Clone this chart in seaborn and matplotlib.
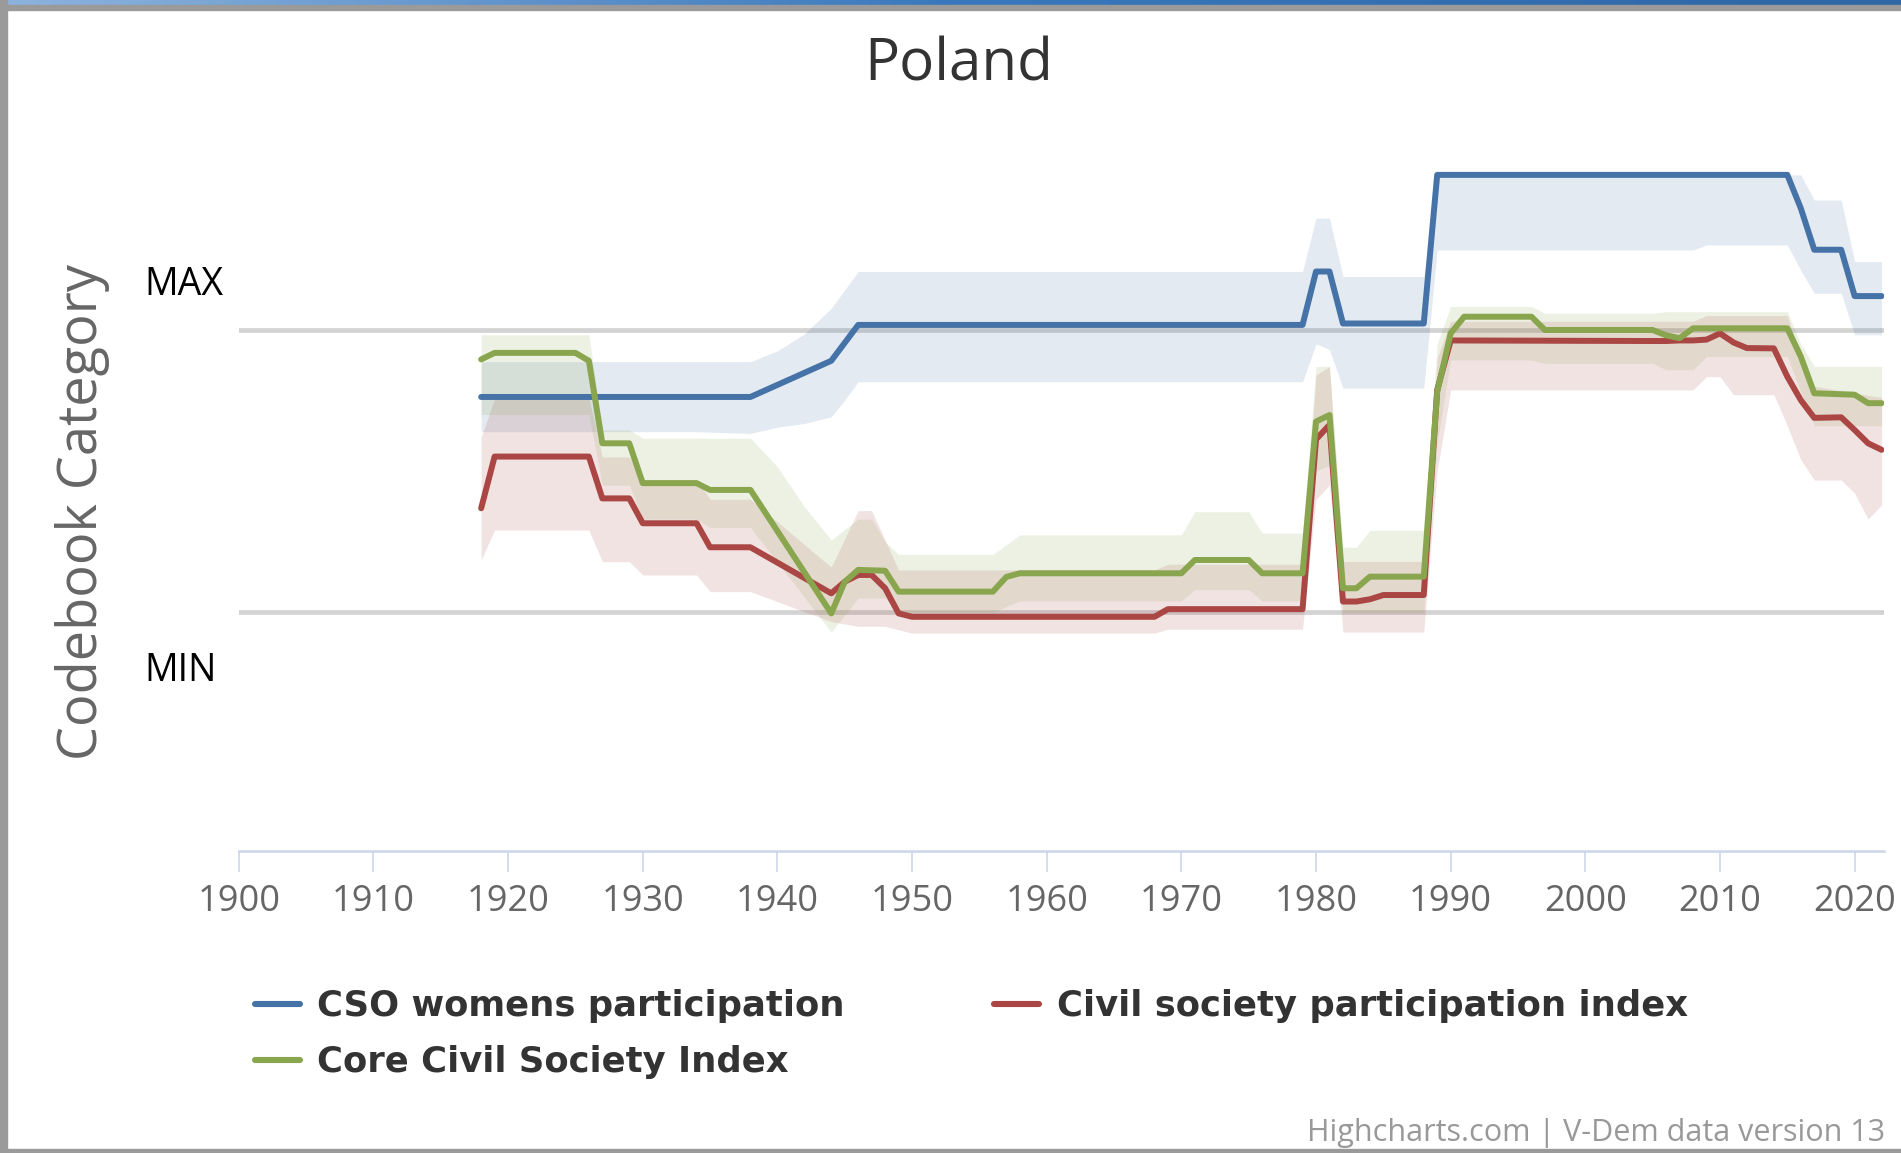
import numpy as np
import matplotlib
matplotlib.use("Agg")
import matplotlib.pyplot as plt
from matplotlib.lines import Line2D
from matplotlib.patches import Rectangle
import seaborn as sns

# ---- data (vertices, MIN = 0, MAX = 1) ----
cso_years = [1918, 1938, 1944, 1946, 1979, 1980, 1981, 1982, 1988, 1989, 2015, 2016, 2017, 2019, 2020, 2022]
cso_vals = [0.762, 0.762, 0.890, 1.017, 1.017, 1.206, 1.206, 1.022, 1.022, 1.548, 1.548, 1.430, 1.283, 1.283, 1.119, 1.119]
cso_hi_years = [1918, 1938, 1940, 1942, 1944, 1946, 1979, 1980, 1981, 1982, 1988, 1989, 2016, 2017, 2019, 2020, 2022]
cso_hi_vals = [0.887, 0.887, 0.925, 0.985, 1.076, 1.206, 1.206, 1.395, 1.395, 1.188, 1.188, 1.548, 1.548, 1.459, 1.459, 1.241, 1.241]
cso_lo_years = [1918, 1934, 1938, 1940, 1942, 1944, 1945, 1946, 1979, 1980, 1981, 1982, 1988, 1989, 2008, 2009, 2015, 2016, 2017, 2019, 2020, 2022]
cso_lo_vals = [0.639, 0.639, 0.633, 0.655, 0.668, 0.692, 0.751, 0.816, 0.816, 0.950, 0.930, 0.793, 0.793, 1.282, 1.282, 1.300, 1.300, 1.210, 1.129, 1.129, 0.982, 0.982]

csp_years = [1918, 1919, 1926, 1927, 1929, 1930, 1934, 1935, 1938, 1944, 1945, 1946, 1947, 1948, 1949, 1950, 1968, 1969, 1979,
             1980, 1981, 1982, 1983, 1984, 1985, 1988, 1989, 1990, 2005, 2006, 2007, 2008, 2009, 2010, 2011, 2012, 2014,
             2015, 2016, 2017, 2019, 2020, 2021, 2022]
csp_vals = [0.368, 0.551, 0.551, 0.403, 0.403, 0.315, 0.315, 0.230, 0.230, 0.067, 0.108, 0.132, 0.132, 0.085, -0.004, -0.016,
            -0.016, 0.011, 0.011, 0.612, 0.663, 0.038, 0.038, 0.046, 0.061, 0.061, 0.787, 0.962, 0.960, 0.960, 0.962, 0.962,
            0.965, 0.987, 0.955, 0.935, 0.934, 0.834, 0.751, 0.688, 0.690, 0.645, 0.598, 0.575]
csp_hi_years = [1918, 1919, 1926, 1927, 1929, 1930, 1934, 1935, 1938, 1944, 1946, 1947, 1949, 1968, 1969, 1979, 1980, 1981,
                1982, 1988, 1989, 1990, 2008, 2009, 2015, 2016, 2017, 2022]
csp_hi_vals = [0.62, 0.757, 0.757, 0.55, 0.55, 0.47, 0.47, 0.40, 0.40, 0.16, 0.36, 0.36, 0.15, 0.15, 0.17, 0.17, 0.84, 0.87,
               0.18, 0.18, 0.90, 1.03, 1.03, 1.05, 1.05, 0.90, 0.80, 0.76]
csp_lo_years = [1918, 1919, 1926, 1927, 1929, 1930, 1934, 1935, 1938, 1944, 1946, 1948, 1950, 1968, 1969, 1979, 1980, 1981,
                1982, 1988, 1989, 1990, 2008, 2009, 2010, 2011, 2014, 2015, 2016, 2017, 2019, 2020, 2021, 2022]
csp_lo_vals = [0.185, 0.291, 0.291, 0.179, 0.179, 0.132, 0.132, 0.073, 0.073, -0.033, -0.05, -0.05, -0.074, -0.074, -0.06,
               -0.06, 0.40, 0.45, -0.07, -0.07, 0.50, 0.787, 0.787, 0.834, 0.834, 0.77, 0.77, 0.66, 0.54, 0.468, 0.468,
               0.421, 0.33, 0.38]

core_years = [1918, 1919, 1925, 1926, 1927, 1929, 1930, 1934, 1935, 1938, 1944, 1945, 1946, 1948, 1949, 1956, 1957, 1958,
              1970, 1971, 1975, 1976, 1979, 1980, 1981, 1982, 1983, 1984, 1988, 1989, 1990, 1991, 1996, 1997, 2005, 2006,
              2007, 2008, 2015, 2016, 2017, 2020, 2021, 2022]
core_vals = [0.895, 0.918, 0.918, 0.890, 0.598, 0.598, 0.457, 0.457, 0.433, 0.433, -0.004, 0.108, 0.150, 0.147, 0.073,
             0.073, 0.125, 0.138, 0.138, 0.185, 0.185, 0.138, 0.138, 0.675, 0.698, 0.085, 0.085, 0.126, 0.126, 0.780,
             0.987, 1.046, 1.046, 0.999, 0.999, 0.980, 0.970, 1.005, 1.005, 0.905, 0.775, 0.770, 0.740, 0.740]
core_hi_years = [1918, 1926, 1927, 1929, 1930, 1938, 1940, 1942, 1944, 1946, 1947, 1948, 1949, 1956, 1958, 1970, 1971,
                 1975, 1976, 1979, 1980, 1981, 1982, 1983, 1984, 1988, 1989, 1990, 1996, 1997, 2005, 2006, 2015, 2016,
                 2017, 2022]
core_hi_vals = [0.982, 0.982, 0.645, 0.645, 0.616, 0.616, 0.515, 0.374, 0.256, 0.33, 0.33, 0.25, 0.205, 0.205, 0.274,
                0.274, 0.356, 0.356, 0.280, 0.280, 0.87, 0.87, 0.23, 0.23, 0.29, 0.29, 0.95, 1.082, 1.082, 1.058, 1.058,
                1.064, 1.064, 0.95, 0.87, 0.87]
core_lo_years = [1918, 1926, 1927, 1929, 1930, 1934, 1935, 1938, 1944, 1946, 1948, 1949, 1956, 1958, 1970, 1971, 1975,
                 1976, 1979, 1980, 1981, 1982, 1988, 1989, 1990, 1996, 1997, 2005, 2006, 2008, 2009, 2015, 2016, 2017,
                 2022]
core_lo_vals = [0.70, 0.70, 0.45, 0.45, 0.33, 0.33, 0.30, 0.30, -0.07, 0.05, 0.05, 0.0, 0.0, 0.04, 0.04, 0.08, 0.08,
                0.04, 0.04, 0.50, 0.52, 0.0, 0.0, 0.60, 0.893, 0.893, 0.881, 0.881, 0.858, 0.858, 0.905, 0.905, 0.78,
                0.66, 0.66]

series_names = ["CSO womens participation", "Civil society participation index", "Core Civil Society Index"]
series_colors = ["#4572A7", "#AA4643", "#89A54E"]
x_ticks = list(range(1900, 2021, 10))

# ---- style ----
sns.set_style("white")
plt.rcParams['font.family'] = ['Open Sans', 'DejaVu Sans']

fig = plt.figure(figsize=(19.01, 11.53), dpi=100)
ax = fig.add_axes([0.1256, 0.2619, 0.8656, 0.608])

lines = [(cso_years, cso_vals), (csp_years, csp_vals), (core_years, core_vals)]
bands = [((cso_hi_years, cso_hi_vals), (cso_lo_years, cso_lo_vals)),
         ((csp_hi_years, csp_hi_vals), (csp_lo_years, csp_lo_vals)),
         ((core_hi_years, core_hi_vals), (core_lo_years, core_lo_vals))]

# confidence bands
grid_years = np.arange(1918, 2023)
for (hi, lo), col in zip(bands, series_colors):
    upper = np.interp(grid_years, hi[0], hi[1])
    lower = np.interp(grid_years, lo[0], lo[1])
    ax.fill_between(grid_years, lower, upper, color=col, alpha=0.15, lw=0, zorder=1)

# MIN / MAX reference lines
ax.axhline(1, color="#d3d3d3", lw=3.4, zorder=0.5)
ax.axhline(0, color="#d3d3d3", lw=3.4, zorder=0.5)

for (yrs, vals), col in zip(lines, series_colors):
    sns.lineplot(x=yrs, y=vals, ax=ax, color=col, lw=4.3, zorder=3)

ax.set_xlim(1900, 2022.2)
ax.set_ylim(-0.845, 1.636)
ax.set_xticks(x_ticks)
ax.set_yticks([])
ax.tick_params(axis='x', length=15, width=1.2, color="#ccd6eb", labelsize=26,
               labelcolor="#666666", pad=8.5, bottom=True)
for s in ["top", "right", "left"]:
    ax.spines[s].set_visible(False)
ax.spines["bottom"].set_color("#ccd6eb")
ax.spines["bottom"].set_linewidth(1.8)

ax.text(-0.0576, 1.160, "MAX", transform=ax.get_yaxis_transform(), fontsize=27,
        color="black", ha="left", va="center")
ax.text(-0.0576, -0.207, "MIN", transform=ax.get_yaxis_transform(), fontsize=27,
        color="black", ha="left", va="center")
ax.text(-0.0951, 0.4836, "Codebook Category", transform=ax.transAxes, rotation=90,
        fontsize=39, color="#666666", ha="center", va="center")

fig.text(0.5045, 0.943, "Poland", fontsize=42, color="#333333", ha="center", va="center")
fig.text(0.9915, 0.017, "Highcharts.com | V-Dem data version 13", fontsize=22,
         color="#999999", ha="right", va="center")

handles = [Line2D([], [], color=c, lw=4.4) for c in series_colors]
order = [0, 2, 1]
fig.legend([handles[i] for i in order], [series_names[i] for i in order], ncol=2,
           loc="upper left", bbox_to_anchor=(0.134, 0.1422), frameon=False,
           prop={"family": "DejaVu Sans", "size": 25.5, "weight": "bold"}, labelcolor="#333333",
           handlelength=1.27, handletextpad=0.5, columnspacing=4.22,
           labelspacing=0.62, borderpad=0, borderaxespad=0)

# chart frame: gradient strip on top, grey borders
top_ax = fig.add_axes([0, 1 - 5 / 1153, 1, 5 / 1153])
top_ax.imshow(np.linspace(0, 1, 256)[None, :], aspect="auto",
              cmap=matplotlib.colors.LinearSegmentedColormap.from_list("hdr", ["#8db3dd", "#3a78bd", "#2e66a6"]))
top_ax.axis("off")
fig.patches.append(Rectangle((0, 1 - 10 / 1153), 1, 5 / 1153, transform=fig.transFigure, color="#9a9a9a"))
fig.patches.append(Rectangle((0, 0), 7 / 1901, 1, transform=fig.transFigure, color="#9a9a9a"))
fig.patches.append(Rectangle((0, 0), 1, 4 / 1153, transform=fig.transFigure, color="#9a9a9a"))

fig.savefig("out.png", dpi=100)
